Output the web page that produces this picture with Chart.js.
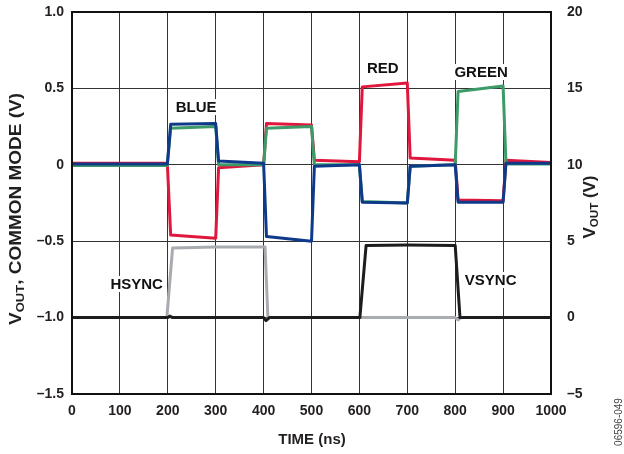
<!DOCTYPE html>
<html lang="en">
<head>
    <meta charset="UTF-8">
    <title>VOUT common mode and sync outputs</title>
    <script src="https://cdn.jsdelivr.net/npm/chart.js"></script>
    <style>
        html, body { margin: 0; padding: 0; background: #fff; }
        #wrap { position: relative; width: 624px; height: 454px; }
    </style>
</head>
<body>
    <div id="wrap">
        <canvas id="scopeChart"></canvas>
    </div>
    <script>
        // time points (ns) for the colour channels, one edge every 100 ns
        var timeRGB = [0, 199, 206, 300, 306, 400, 406, 500, 506, 600, 606, 700, 706, 800, 806, 900, 906, 1000];
        var red   = [0.01, 0.01, -0.46, -0.48, -0.02, 0.0, 0.27, 0.26, 0.03, 0.02, 0.51, 0.535, 0.045, 0.03, -0.23, -0.235, 0.03, 0.015];
        var green = [-0.005, -0.005, 0.24, 0.25, 0.0, 0.0, 0.24, 0.25, 0.0, 0.0, -0.24, -0.25, -0.01, 0.0, 0.48, 0.515, 0.005, 0.005];
        var blue  = [0.005, 0.005, 0.265, 0.27, 0.025, 0.01, -0.47, -0.5, -0.01, 0.0, -0.245, -0.25, -0.01, 0.0, -0.245, -0.245, 0.01, 0.01];

        // sync outputs, right axis (V)
        var hsyncTime = [0, 198, 210, 300, 403, 409, 800, 806, 812, 1000];
        var hsync     = [0, 0, 4.55, 4.62, 4.62, 0, 0, -0.15, 0, 0];
        var vsyncTime = [0, 200, 204, 210, 400, 405, 412, 601, 614, 700, 800, 810, 1000];
        var vsync     = [0, 0, 0.1, 0, 0, -0.2, 0, 0, 4.72, 4.75, 4.72, 0, 0];

        var xTicks = [0, 100, 200, 300, 400, 500, 600, 700, 800, 900, 1000];

        // trace names written next to the traces (data coordinates)
        var traceLabels = [
            { text: 'BLUE',  x: 259, y: 0.378 },
            { text: 'RED',   x: 649, y: 0.633 },
            { text: 'GREEN', x: 854, y: 0.607 },
            { text: 'HSYNC', x: 135, y: -0.78 },
            { text: 'VSYNC', x: 874, y: -0.754 }
        ];

        function pts(xs, ys) {
            return xs.map(function (x, i) { return { x: x, y: ys[i] }; });
        }

        function fmt(v, dec) {
            if (v === 0) return '0';
            return (v < 0 ? '\u2013' : '') + Math.abs(v).toFixed(dec);
        }

        var tickFont = { family: 'Liberation Sans, Arial, sans-serif', size: 14, weight: 'bold' };
        var gridStyle = { color: '#333', lineWidth: 1, drawTicks: false };

        // text with a subscript part, rotated, optionally stretched to a length
        function drawSubText(ctx, parts, cx, cy, rot, targetLen) {
            ctx.save();
            ctx.translate(cx, cy);
            ctx.rotate(rot);
            var w = 0;
            parts.forEach(function (p) {
                ctx.font = 'bold ' + (p.sub ? 11 : 16) + 'px Liberation Sans, Arial, sans-serif';
                p.w = ctx.measureText(p.t).width;
                w += p.w;
            });
            if (targetLen) ctx.scale(targetLen / w, 1);
            var x = -w / 2;
            ctx.fillStyle = '#231f20';
            ctx.textBaseline = 'middle';
            ctx.textAlign = 'left';
            parts.forEach(function (p) {
                ctx.font = 'bold ' + (p.sub ? 11 : 16) + 'px Liberation Sans, Arial, sans-serif';
                ctx.fillText(p.t, x, p.sub ? 4 : 0);
                x += p.w;
            });
            ctx.restore();
        }

        var extras = {
            id: 'extras',
            afterDraw: function (chart) {
                var ctx = chart.ctx;
                var a = chart.chartArea;
                var xs = chart.scales.x, ys = chart.scales.y;

                // plot frame
                ctx.save();
                ctx.strokeStyle = '#111';
                ctx.lineWidth = 2;
                ctx.strokeRect(a.left, a.top, a.right - a.left, a.bottom - a.top);

                // trace labels
                ctx.font = 'bold 15px Liberation Sans, Arial, sans-serif';
                ctx.textAlign = 'center';
                ctx.textBaseline = 'middle';
                traceLabels.forEach(function (l) {
                    var px = xs.getPixelForValue(l.x), py = ys.getPixelForValue(l.y);
                    var w = ctx.measureText(l.text).width;
                    ctx.fillStyle = '#fff';
                    ctx.fillRect(px - w / 2 - 2, py - 8, w + 4, 16);
                    ctx.fillStyle = '#111';
                    ctx.fillText(l.text, px, py + 1);
                });

                // x axis title
                ctx.font = 'bold 15px Liberation Sans, Arial, sans-serif';
                ctx.fillStyle = '#231f20';
                ctx.fillText('TIME (ns)', 312, 440);

                // figure number
                ctx.save();
                ctx.translate(619, 422);
                ctx.rotate(-Math.PI / 2);
                ctx.font = '10px Liberation Sans, Arial, sans-serif';
                ctx.fillStyle = '#444';
                ctx.fillText('06596-049', 0, 0);
                ctx.restore();
                ctx.restore();

                drawSubText(ctx, [{ t: 'V', sub: false }, { t: 'OUT', sub: true }, { t: ', COMMON MODE (V)', sub: false }],
                    17, 209, -Math.PI / 2, 232);
                drawSubText(ctx, [{ t: 'V', sub: false }, { t: 'OUT', sub: true }, { t: ' (V)', sub: false }],
                    591, 207, -Math.PI / 2, 63);
            }
        };

        // fixed axis boxes so the plot area lands where it is in the figure
        function fixWidth(w) {
            return function (scale) {
                scale.width = w;
                scale.paddingTop = 0;
                scale.paddingBottom = 0;
            };
        }

        var ctx = document.getElementById('scopeChart').getContext('2d');
        var scopeChart = new Chart(ctx, {
            type: 'line',
            data: {
                datasets: [
                    { label: 'VSYNC', data: pts(vsyncTime, vsync), yAxisID: 'y2', borderColor: '#1e1c1d', borderWidth: 3, order: 1 },
                    { label: 'HSYNC', data: pts(hsyncTime, hsync), yAxisID: 'y2', borderColor: '#a8acb0', borderWidth: 3, order: 2 },
                    { label: 'BLUE', data: pts(timeRGB, blue), yAxisID: 'y', borderColor: '#0f3a8a', borderWidth: 3, order: 3 },
                    { label: 'GREEN', data: pts(timeRGB, green), yAxisID: 'y', borderColor: '#3d9b69', borderWidth: 3, order: 4 },
                    { label: 'RED', data: pts(timeRGB, red), yAxisID: 'y', borderColor: '#e0173d', borderWidth: 3, order: 5 }
                ]
            },
            options: {
                responsive: true,
                maintainAspectRatio: false,
                animation: false,
                layout: { padding: { top: 12, left: 0, right: 0, bottom: 0 } },
                elements: {
                    point: { radius: 0 },
                    line: { tension: 0, fill: false, borderJoinStyle: 'round', borderCapStyle: 'round' }
                },
                plugins: {
                    legend: { display: false },
                    tooltip: { enabled: false }
                },
                scales: {
                    x: {
                        type: 'linear',
                        min: 0,
                        max: 1000,
                        afterFit: function (scale) {
                            scale.height = 60;
                            scale.paddingLeft = 0;
                            scale.paddingRight = 0;
                        },
                        afterBuildTicks: function (scale) {
                            scale.ticks = xTicks.map(function (v) { return { value: v }; });
                        },
                        grid: gridStyle,
                        border: { display: false },
                        ticks: {
                            font: tickFont,
                            color: '#231f20',
                            padding: 9,
                            maxRotation: 0,
                            callback: function (value) { return String(value); }
                        }
                    },
                    y: {
                        position: 'left',
                        min: -1.5,
                        max: 1.0,
                        afterFit: fixWidth(72),
                        grid: gridStyle,
                        border: { display: false },
                        ticks: {
                            stepSize: 0.5,
                            font: tickFont,
                            color: '#231f20',
                            padding: 8,
                            callback: function (value) { return fmt(value, 1); }
                        }
                    },
                    y2: {
                        position: 'right',
                        min: -5,
                        max: 20,
                        afterFit: fixWidth(73),
                        grid: { display: false },
                        border: { display: false },
                        ticks: {
                            stepSize: 5,
                            font: tickFont,
                            color: '#231f20',
                            padding: 8,
                            callback: function (value) { return fmt(value, 0); }
                        }
                    }
                }
            },
            plugins: [extras]
        });
    </script>
</body>
</html>
